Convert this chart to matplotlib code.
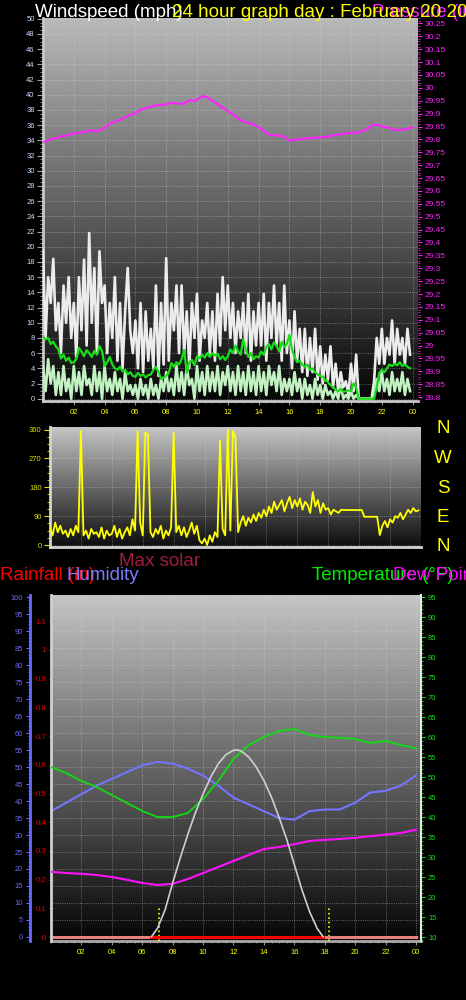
import numpy as np
import matplotlib
matplotlib.use('Agg')
import matplotlib.pyplot as plt
from matplotlib.colors import to_rgb
from matplotlib.ticker import MultipleLocator, FormatStrFormatter

W, H = 466, 1000

# ---------------- data ----------------
hour_ticks = [2, 4, 6, 8, 10, 12, 14, 16, 18, 20, 22, 24]
hour_labels = ['02', '04', '06', '08', '10', '12', '14', '16', '18', '20', '22', '00']

# 10 minute samples, one row per hour
wind_gust = [
    19.5, 8.0, 16.0, 12.6, 18.4, 9.0,
    12.6, 6.0, 14.9, 10.0, 16.0, 8.0,
    12.6, 5.5, 16.0, 9.0, 18.3, 7.0,
    21.8, 10.0, 17.2, 6.0, 19.4, 12.6,
    14.9, 6.0, 12.6, 8.0, 16.0, 5.0,
    12.6, 4.0, 11.5, 17.2, 9.0, 6.0,
    10.3, 4.0, 12.6, 3.5, 11.5, 5.0,
    9.2, 4.0, 14.9, 3.0, 12.6, 4.5,
    18.5, 5.0, 12.6, 9.0, 14.9, 6.0,
    14.9, 6.0, 11.5, 4.0, 12.6, 8.0,
    13.8, 5.0, 10.3, 8.0, 12.6, 6.0,
    11.5, 5.0, 13.8, 7.0, 16.0, 9.0,
    14.9, 8.0, 12.6, 6.0, 11.5, 8.0,
    12.6, 6.0, 13.8, 5.0, 11.5, 7.0,
    12.6, 7.0, 13.8, 5.0, 12.6, 8.0,
    14.9, 7.0, 12.6, 5.0, 14.9, 6.0,
    10.3, 4.0, 11.5, 5.0, 9.2, 3.5,
    9.2, 3.0, 8.0, 3.5, 9.2, 2.5,
    6.9, 2.0, 5.8, 2.5, 6.9, 1.5,
    4.6, 1.0, 3.5, 1.5, 2.3, 0.5,
    4.6, 1.0, 5.8, 0.0, 0.0, 0.0,
    0.0, 0.0, 0.0, 2.3, 8.0, 4.6,
    9.2, 4.6, 8.0, 5.8, 10.3, 4.6,
    9.2, 5.8, 8.0, 4.6, 9.2, 5.8,
]
wind_speed = [
    4.3, 1.0, 5.2, 2.0, 4.3, 0.5,
    3.5, 0.5, 4.3, 1.0, 2.6, 0.0,
    4.3, 1.0, 3.5, 0.5, 4.3, 1.8,
    2.6, 0.5, 4.3, 1.0, 3.5, 0.0,
    4.3, 1.0, 2.6, 0.5, 3.5, 1.0,
    2.6, 0.0, 3.5, 1.0, 1.8, 0.5,
    1.8, 0.0, 2.6, 0.5, 1.8, 0.0,
    2.6, 0.5, 1.8, 0.0, 2.6, 1.0,
    3.5, 1.0, 2.6, 0.5, 4.3, 1.0,
    3.5, 0.5, 4.3, 1.8, 2.6, 0.0,
    4.3, 1.0, 3.5, 0.5, 4.3, 1.0,
    3.5, 1.0, 4.3, 0.5, 3.5, 1.8,
    4.3, 1.0, 3.5, 0.5, 4.3, 1.0,
    3.5, 0.5, 4.3, 1.0, 3.5, 0.5,
    4.3, 1.0, 3.5, 0.5, 4.3, 1.8,
    3.5, 1.0, 4.3, 0.5, 2.6, 1.0,
    2.6, 0.5, 3.5, 1.0, 2.6, 0.0,
    2.6, 0.5, 1.8, 0.0, 2.6, 0.5,
    1.8, 0.0, 1.8, 0.5, 1.0, 0.0,
    1.0, 0.0, 1.8, 0.0, 0.5, 0.0,
    1.0, 0.0, 0.5, 0.0, 0.0, 0.0,
    0.0, 0.0, 0.0, 0.5, 2.6, 1.0,
    3.5, 1.0, 2.6, 0.5, 3.5, 1.0,
    2.6, 1.0, 3.5, 0.5, 2.6, 1.0,
]
wind_avg = [
    8.2, 7.8, 8.0, 7.2, 7.5, 6.9,
    6.5, 5.3, 5.8, 5.0, 5.4, 4.7,
    4.8, 5.2, 6.7, 6.2, 5.6, 6.4,
    6.0, 5.5, 6.3, 5.8, 6.9, 6.3,
    4.3, 4.8, 5.5, 4.5, 4.0, 3.8,
    4.2, 3.6, 3.8, 3.2, 3.5, 3.0,
    2.9, 3.4, 3.0, 3.2, 2.8, 3.1,
    3.2, 3.8, 4.2, 3.5, 2.6, 2.8,
    3.0, 3.4, 4.7, 4.2, 4.8, 4.5,
    5.2, 6.4, 3.4, 4.8, 5.1, 4.4,
    5.6, 5.3, 5.8, 5.4, 6.0, 5.5,
    6.0, 5.7, 5.9, 5.2, 5.6, 5.1,
    5.6, 6.5, 6.0, 7.0, 6.2, 5.8,
    7.8, 6.5, 5.5, 6.0, 5.2, 5.6,
    5.4, 6.2, 5.8, 6.8, 7.2, 6.5,
    7.4, 7.0, 6.2, 7.5, 6.8, 7.2,
    8.4, 6.5, 5.5, 4.8, 5.0, 4.5,
    4.2, 4.5, 3.8, 4.0, 3.5, 3.2,
    3.0, 2.9, 2.4, 2.2, 1.8, 1.5,
    1.2, 1.0, 1.3, 0.9, 1.0, 1.1,
    1.0, 2.0, 1.5, 0.0, 0.0, 0.0,
    0.0, 0.0, 0.0, 0.0, 1.5, 3.4,
    3.8, 3.5, 4.0, 4.5, 4.3, 4.6,
    4.4, 4.8, 4.3, 4.5, 4.2, 4.0,
]
wind_dir = [
    55, 30, 70, 40, 60, 35,
    45, 25, 50, 30, 60, 40,
    355, 30, 45, 20, 50, 35,
    40, 25, 55, 20, 45, 30,
    35, 60, 25, 50, 20, 40,
    55, 30, 80, 45, 355, 70,
    30, 350, 345, 40, 25, 50,
    35, 60, 20, 45, 30, 55,
    350, 40, 60, 30, 55, 25,
    45, 70, 35, 60, 15, 5,
    20, 0, 30, 10, 40, 25,
    325, 50, 30, 360, 45, 355,
    335, 40, 70, 90, 60, 85,
    70, 95, 75, 100, 85, 110,
    90, 120, 100, 135, 110, 125,
    140, 105, 130, 150, 115, 140,
    120, 145, 110, 135, 125, 100,
    165, 120, 140, 100, 130, 110,
    115, 95, 110, 105, 100, 110,
    109, 109, 109, 109, 109, 109,
    109, 109, 88, 88, 88, 88,
    88, 88, 31, 60, 75, 55,
    80, 70, 90, 85, 100, 80,
    95, 110, 100, 115, 105, 108,
]
sample_hours = np.arange(len(wind_gust)) / 6.0

pressure_hours = [0, 0.5, 1.1, 1.5, 2.0, 2.5, 3.1, 3.5, 4.0, 4.4,
                  5.0, 5.4, 5.9, 6.3, 6.9, 7.4, 7.9, 8.4, 9.1, 9.5,
                  9.9, 10.35, 10.7, 11.1, 11.5, 11.9, 12.4, 12.8, 13.2, 13.6,
                  14.2, 14.7, 15.2, 15.6, 16.0, 16.5, 17.1, 17.6, 18.2, 18.8,
                  19.3, 19.9, 20.4, 20.9, 21.45, 21.8, 22.1, 22.5, 22.8, 23.4, 24.0]
pressure = [29.788, 29.80, 29.81, 29.815, 29.824, 29.826, 29.836, 29.83, 29.845, 29.863,
            29.876, 29.888, 29.90, 29.914, 29.925, 29.933, 29.935, 29.942, 29.937, 29.952,
            29.950, 29.968, 29.962, 29.946, 29.93, 29.914, 29.895, 29.875, 29.866, 29.86,
            29.84, 29.817, 29.815, 29.813, 29.795, 29.80, 29.804, 29.806, 29.808, 29.815,
            29.82, 29.825, 29.826, 29.835, 29.858, 29.855, 29.849, 29.845, 29.836, 29.838, 29.847]

hours = list(range(25))
humidity = [37, 39.5, 42, 44.5, 46.5, 48.5, 50.5, 51.5, 51, 49.5, 47.5, 44.5, 41,
            39, 37, 35, 34.5, 37, 37.5, 37.5, 39.5, 42.5, 43, 44.5, 47.5]
temperature = [52.5, 51, 49, 47.5, 45.5, 43.5, 41.5, 40, 40, 41, 44.5, 49, 54.5,
               58, 60, 61.5, 62, 60.5, 60, 59.8, 59.5, 58.5, 59, 58, 57.2]
dew_point = [26.3, 26, 25.8, 25.5, 25, 24.3, 23.5, 23, 23.3, 24.5, 26, 27.5, 29,
             30.5, 32, 32.5, 33.2, 34, 34.3, 34.5, 34.8, 35.2, 35.6, 36, 36.8]
rain = [0.0] * 25

solar_hours = [6.6, 7, 7.5, 8, 8.5, 9, 9.5, 10, 10.5, 11, 11.5, 12, 12.25, 12.5,
               13, 13.5, 14, 14.5, 15, 15.5, 16, 16.5, 17, 17.5, 17.9]
max_solar = [0, 25, 80, 160, 235, 305, 370, 425, 475, 515, 542, 555, 556, 553,
             535, 505, 465, 415, 355, 290, 215, 140, 75, 25, 0]
daylight = [6.6, 17.9]
sun_rise_set = [7.1, 18.3]

# ---------------- drawing ----------------
plt.rcParams['font.family'] = ['Liberation Sans', 'DejaVu Sans']

fig = plt.figure(figsize=(W / 100, H / 100), dpi=100, facecolor='black')


def px_axes(x0, y0, x1, y1):
    return fig.add_axes([x0 / W, 1 - y1 / H, (x1 - x0) / W, (y1 - y0) / H])


def gradient(ax, top, bottom):
    g = np.linspace(0, 1, 256)[:, None, None]
    img = np.array(to_rgb(top)) * (1 - g) + np.array(to_rgb(bottom)) * g
    ax.imshow(img, extent=[0, 1, 0, 1], transform=ax.transAxes,
              aspect='auto', zorder=0, interpolation='bilinear')


def hour_axis(ax, labels=True):
    ax.set_xticks(hour_ticks)
    ax.set_xticklabels(hour_labels if labels else [])
    ax.xaxis.set_minor_locator(MultipleLocator(0.5))
    ax.tick_params(axis='x', which='major', colors='#8c8c8c', labelcolor='#ffff00',
                   labelsize=5.5, length=3, width=0.8, pad=3)
    ax.tick_params(axis='x', which='minor', colors='#8c8c8c', length=1.5, width=0.6)


def frame(ax, color='#c8c8c8'):
    for s in ['top', 'right']:
        ax.spines[s].set_visible(False)
    for s in ['left', 'bottom']:
        ax.spines[s].set_color(color)
        ax.spines[s].set_linewidth(2)


grid_kw = dict(color='#d8d8d8', ls=':', lw=0.6, alpha=0.55)

# --- wind / pressure ---
ax1 = px_axes(43, 18, 418, 401)
ax1.set_facecolor('black')
gradient(ax1, '#b9b9b9', '#060606')
ax1.plot(sample_hours, wind_gust, color='#ececec', lw=1.9, zorder=3)
ax1.plot(sample_hours, wind_speed, color='#c2f2c2', lw=1.9, zorder=4)
ax1.plot(sample_hours, wind_avg, color='#18dd18', lw=1.6, zorder=5)
ax1.set_xlim(0, 24.35)
ax1.set_ylim(-0.3, 50.1)
ax1.yaxis.set_major_locator(MultipleLocator(2))
ax1.yaxis.set_minor_locator(MultipleLocator(0.5))
ax1.tick_params(axis='y', which='major', colors='#a0a0a0', labelcolor='#c8dcff',
                labelsize=5.5, length=4, width=0.8, pad=2)
ax1.tick_params(axis='y', which='minor', colors='#a0a0a0', length=2, width=0.6)
hour_axis(ax1)
ax1.grid(True, which='major', **grid_kw)
frame(ax1)

ax1b = ax1.twinx()
ax1b.plot(pressure_hours, pressure, color='#ff22ff', lw=1.5)
ax1b.set_ylim(28.785, 30.271)
ax1b.yaxis.set_major_locator(MultipleLocator(0.05))
ax1b.yaxis.set_minor_locator(MultipleLocator(0.01))
ax1b.yaxis.set_major_formatter(FormatStrFormatter('%g'))
ax1b.tick_params(axis='y', which='major', colors='#ff22ff', labelsize=6,
                 length=3, width=0.8, pad=2)
ax1b.tick_params(axis='y', which='minor', colors='#ff22ff', length=1.5, width=0.6)
for s in ax1b.spines.values():
    s.set_visible(False)

# --- wind direction ---
ax2 = px_axes(50, 427, 421, 547)
ax2.set_facecolor('black')
gradient(ax2, '#c6c6c6', '#0c0c0c')
ax2.plot(sample_hours, wind_dir, color='#ffff00', lw=1.3, zorder=3)
ax2.set_xlim(0, 24)
ax2.set_ylim(-6.2, 367.8)
ax2.set_yticks([0, 90, 180, 270, 360])
ax2.yaxis.set_minor_locator(MultipleLocator(22.5))
ax2.tick_params(axis='y', which='major', colors='#e0e000', labelsize=5.5,
                length=4, width=0.8, pad=2)
ax2.tick_params(axis='y', which='minor', colors='#e0e000', length=2, width=0.6)
ax2.set_xticks(hour_ticks)
ax2.set_xticklabels([])
ax2.tick_params(axis='x', length=0)
ax2.grid(True, which='major', **grid_kw)
frame(ax2, '#d4d4d4')

# --- rain / humidity / temperature ---
ax3 = px_axes(51, 595, 421, 941)
ax3.set_facecolor('black')
gradient(ax3, '#c4c4c4', '#060606')
ax3.plot(hours, humidity, color='#7474ff', lw=1.5, zorder=3)
ax3.set_xlim(0, 24.33)
ax3.set_ylim(-1.18, 100.6)
ax3.yaxis.set_major_locator(MultipleLocator(5))
ax3.yaxis.set_minor_locator(MultipleLocator(1))
ax3.tick_params(axis='y', which='major', colors='#6a6aff', labelsize=5.4,
                length=3, width=0.8, pad=2)
ax3.tick_params(axis='y', which='minor', colors='#6a6aff', length=1.5, width=0.6)
hour_axis(ax3)
ax3.grid(True, which='major', **grid_kw)
for s in ['top', 'right']:
    ax3.spines[s].set_visible(False)
ax3.spines['left'].set_position(('outward', 15))
ax3.spines['left'].set_color('#6a6aff')
ax3.spines['left'].set_linewidth(2)
ax3.spines['bottom'].set_color('#a8a8a8')
ax3.spines['bottom'].set_linewidth(2)
for h in sun_rise_set:
    ax3.axvline(h, ymin=0, ymax=0.1, color='#ffff00', ls=':', lw=1.2, zorder=4)

ax3r = ax3.twinx()
ax3r.plot(hours, rain, color='#e88080', lw=2.2)
ax3r.plot(daylight, [0, 0], color='#ff0000', lw=2.2)
ax3r.set_ylim(-0.0139, 1.1916)
ax3r.yaxis.set_ticks_position('left')
ax3r.yaxis.set_major_locator(MultipleLocator(0.1))
ax3r.yaxis.set_minor_locator(MultipleLocator(0.025))
ax3r.yaxis.set_major_formatter(FormatStrFormatter('%g'))
ax3r.tick_params(axis='y', which='major', colors='#e03030', labelcolor='#dd0000',
                 labelsize=5.6, length=3, width=0.8, pad=2, direction='inout')
ax3r.tick_params(axis='y', which='minor', colors='#e03030', length=2, width=0.6,
                 direction='inout')
for s in ['top', 'right', 'bottom']:
    ax3r.spines[s].set_visible(False)
ax3r.spines['left'].set_color('#d0d0d0')
ax3r.spines['left'].set_linewidth(2)

ax3t = ax3.twinx()
ax3t.plot(hours, temperature, color='#10dd10', lw=1.3)
ax3t.plot(hours, dew_point, color='#ff10ff', lw=1.5)
ax3t.set_ylim(9.0, 95.5)
ax3t.yaxis.set_major_locator(MultipleLocator(5))
ax3t.yaxis.set_minor_locator(MultipleLocator(1))
ax3t.tick_params(axis='y', which='major', colors='#10dd10', labelsize=5.4,
                 length=3, width=0.8, pad=2)
ax3t.tick_params(axis='y', which='minor', colors='#10dd10', length=1.5, width=0.6)
for s in ['top', 'left', 'bottom']:
    ax3t.spines[s].set_visible(False)
ax3t.spines['right'].set_color('#e8e8e8')
ax3t.spines['right'].set_linewidth(1.5)

ax3s = ax3.twinx()
ax3s.plot(solar_hours, max_solar, color='#cfcfcf', lw=1.2)
ax3s.set_ylim(-12.5, 1017)
ax3s.axis('off')

# --- text ---
def label(x, y, s, color, size=13.5, **kw):
    fig.text(x / W, 1 - y / H, s, color=color, fontsize=size, va='baseline', **kw)


label(35, 17, 'Windspeed (mph)', 'white')
label(372, 17, 'Pressure (inHg)', '#ff22ff')
label(172, 17, '24 hour graph day : February 20 20', '#ffff00')
for s, y in zip(['N', 'W', 'S', 'E', 'N'], [433, 463, 493, 522, 551]):
    label(443, y, s, '#ffff00', ha='center')
label(119, 566, 'Max solar', '#a01c3c')
label(0, 580, 'Rainfall (in)', '#ff0000')
label(66, 580, 'Humidity', '#7b7bff')
label(312, 580, 'Temperature (°F)', '#00ee00')
label(393, 580, 'Dew Point (°F)', '#ff00ff')

fig.savefig('out.png', dpi=100, facecolor='black')
